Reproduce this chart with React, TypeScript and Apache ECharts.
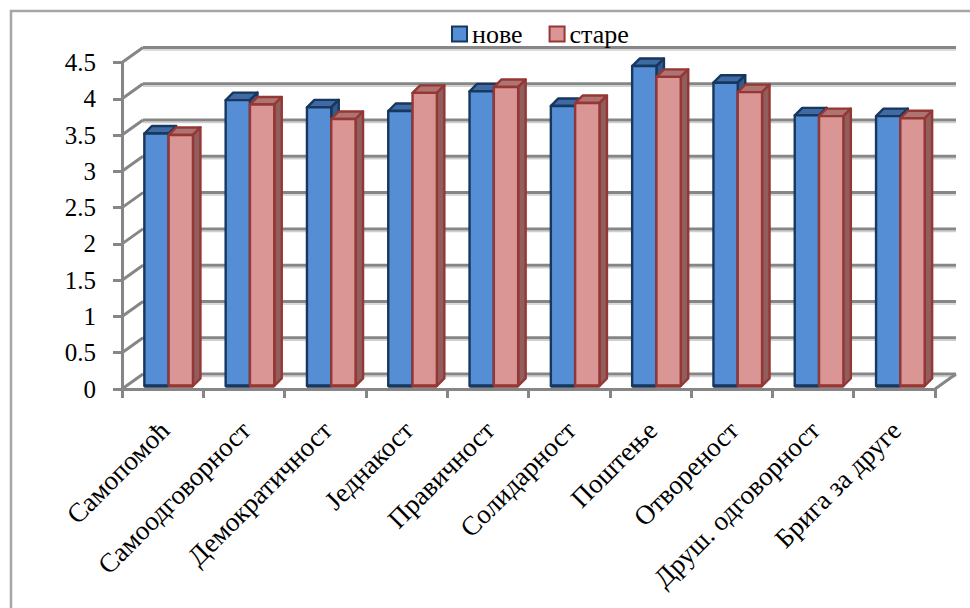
import React, { useEffect, useRef } from "react";
import * as echarts from "echarts";

const categories = ["Самопомоћ", "Самоодговорност", "Демократичност", "Једнакост", "Правичност", "Солидарност", "Поштење", "Отвореност", "Друш. одговорност", "Брига за друге"];
const nove = [3.48, 3.94, 3.84, 3.79, 4.06, 3.86, 4.41, 4.18, 3.73, 3.72];
const stare = [3.46, 3.88, 3.68, 4.04, 4.12, 3.9, 4.26, 4.05, 3.72, 3.69];
const yTicks = [0, 0.5, 1, 1.5, 2, 2.5, 3, 3.5, 4, 4.5];

const FONT = "Liberation Serif";
const GREY = "#868686";
const WALL_DX = 21;
const WALL_DY = -15;
const BAR_DX = 7.5;
const BAR_DY = -7.5;
const BAR_W = 24.3;

function barSeries(name: string, values: number[], side: -1 | 1, c: { border: string; fill: string; top: string; right: string }) {
  return {
    type: "custom",
    name,
    z: 3,
    clip: false,
    silent: true,
    itemStyle: { color: c.fill, borderColor: c.border, borderWidth: 2 },
    encode: { x: 0, y: 1 },
    data: values.map((v, i) => [i, v]),
    renderItem: (_: any, api: any) => {
      const center = api.coord([api.value(0), api.value(1)]);
      const base = api.coord([api.value(0), 0]);
      const xc = center[0] + 6;
      const x0 = side < 0 ? xc - BAR_W : xc;
      const x1 = x0 + BAR_W;
      const yT = center[1] - 3;
      const yB = base[1] - 3;
      const st = (fill: string) => ({ fill, stroke: c.border, lineWidth: 2.4, lineJoin: "round" });
      return {
        type: "group",
        children: [
          { type: "polygon", shape: { points: [[x0, yT], [x0 + BAR_DX, yT + BAR_DY], [x1 + BAR_DX, yT + BAR_DY], [x1, yT]] }, style: st(c.top) },
          { type: "polygon", shape: { points: [[x1, yT], [x1 + BAR_DX, yT + BAR_DY], [x1 + BAR_DX, yB + BAR_DY], [x1, yB]] }, style: st(c.right) },
          { type: "rect", shape: { x: x0, y: yT, width: BAR_W, height: yB - yT }, style: st(c.fill) },
          { type: "line", shape: { x1: x0, y1: yB, x2: x1, y2: yB }, style: { stroke: c.border, lineWidth: 3.4 } },
        ],
      };
    },
  };
}

export default function App() {
  const ref = useRef<HTMLDivElement>(null);
  useEffect(() => {
    document.body.style.margin = "0";
    const chart = echarts.init(ref.current!, undefined, { renderer: "svg" });
    chart.setOption({
      animation: false,
      backgroundColor: "#ffffff",
      textStyle: { fontFamily: FONT },
      graphic: [
        {
          type: "polyline",
          silent: true,
          shape: { points: [[11, 608], [11, 11], [970, 11]] },
          style: { stroke: "#a6a6a6", lineWidth: 2.5, fill: "none" },
        },
      ],
      legend: {
        left: 446,
        top: 16,
        orient: "horizontal",
        itemWidth: 15,
        itemHeight: 15,
        itemGap: 26,
        data: [
          { name: "нове", icon: "rect" },
          { name: "старе", icon: "rect" },
        ],
        textStyle: { fontFamily: FONT, fontSize: 26, color: "#000" },
      },
      grid: { left: 122, top: 62.5, width: 813, height: 326.5, containLabel: false },
      xAxis: {
        type: "category",
        data: categories,
        boundaryGap: true,
        axisLine: { show: true, lineStyle: { color: GREY, width: 3 } },
        axisTick: { show: true, length: 9, lineStyle: { color: GREY, width: 3 } },
        axisLabel: { interval: 0, rotate: 45, margin: 39, padding: [0, -3, 0, 0], fontFamily: FONT, fontSize: 27, color: "#000" },
        splitLine: { show: false },
      },
      yAxis: {
        type: "value",
        min: 0,
        max: 4.5,
        interval: 0.5,
        axisLine: { show: true, lineStyle: { color: GREY, width: 3 } },
        axisTick: { show: true, length: 9, lineStyle: { color: GREY, width: 3 } },
        axisLabel: { margin: 26, fontFamily: FONT, fontSize: 25, color: "#000" },
        splitLine: { show: false },
      },
      series: [
        {
          type: "custom",
          z: 1,
          silent: true,
          clip: false,
          encode: { x: 0, y: 1 },
          data: yTicks.map((v) => [0, v]),
          renderItem: (_: any, api: any) => {
            const v = api.value(1);
            const p = api.coord([0, v]);
            const band = api.size([1, 0])[0];
            const x0 = p[0] - band / 2;
            const x1 = x0 + band * categories.length;
            const y = p[1];
            const s = { stroke: GREY, lineWidth: 3 };
            const children: any[] = [
              { type: "line", shape: { x1: x0 + WALL_DX, y1: y + WALL_DY + 2.5, x2: x1 + WALL_DX, y2: y + WALL_DY + 2.5 }, style: { stroke: "#cfcfcf", lineWidth: 1.5 } },
              { type: "line", shape: { x1: x0, y1: y, x2: x0 + WALL_DX, y2: y + WALL_DY }, style: s },
              { type: "line", shape: { x1: x0 + WALL_DX, y1: y + WALL_DY, x2: x1 + WALL_DX, y2: y + WALL_DY }, style: s },
            ];
            if (v === 0) {
              children.push({ type: "line", shape: { x1, y1: y, x2: x1 + WALL_DX, y2: y + WALL_DY }, style: s });
            }
            return { type: "group", children };
          },
        },
        barSeries("нове", nove, -1, { border: "#17375e", fill: "#558ed5", top: "#3f6aa3", right: "#335a8e" }),
        barSeries("старе", stare, 1, { border: "#953735", fill: "#d99694", top: "#ad7472", right: "#8f5e5d" }),
      ],
    });
    return () => chart.dispose();
  }, []);
  return <div ref={ref} style={{ width: 970, height: 608 }} />;
}
